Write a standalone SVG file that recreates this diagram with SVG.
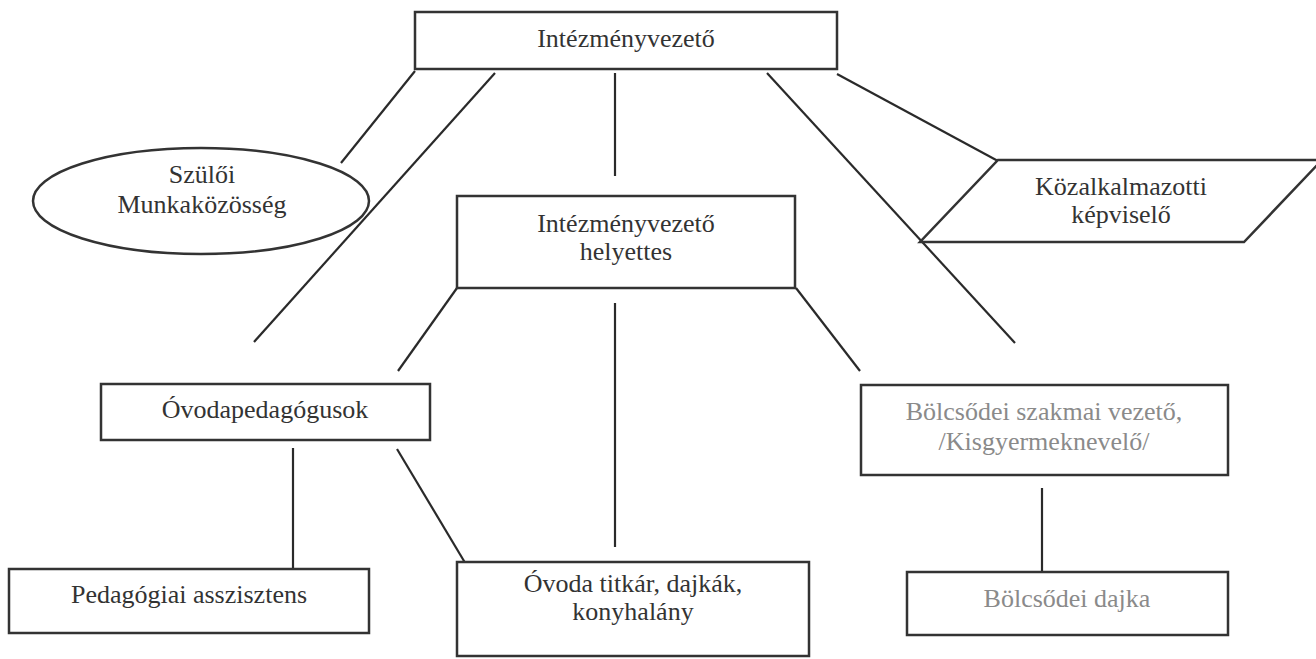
<svg xmlns="http://www.w3.org/2000/svg" width="1316" height="659" viewBox="0 0 1316 659">
<style>
.box{fill:#fff;stroke:#333;stroke-width:2.5}
.ln{stroke:#2a2a2a;stroke-width:2.2;fill:none}
.t{font-family:'Liberation Serif','DejaVu Serif',serif;font-size:26px;fill:#333;text-anchor:middle}
.g{fill:#8a8a8a}
</style>
<rect width="1316" height="659" fill="#fff"/>
<g id="connectors">
<line class="ln" x1="415" y1="71" x2="341" y2="163"/>
<line class="ln" x1="495" y1="73" x2="254" y2="342"/>
<line class="ln" x1="615" y1="73" x2="615" y2="176"/>
<line class="ln" x1="767" y1="73" x2="1015" y2="343"/>
<line class="ln" x1="837" y1="74" x2="998" y2="161"/>
<line class="ln" x1="457" y1="288" x2="398" y2="371"/>
<line class="ln" x1="615" y1="303" x2="615" y2="547"/>
<line class="ln" x1="796" y1="288" x2="860" y2="371"/>
<line class="ln" x1="293" y1="448" x2="293" y2="573"/>
<line class="ln" x1="397" y1="449" x2="467" y2="566"/>
<line class="ln" x1="1042" y1="488" x2="1042" y2="582"/>
</g>
<g id="n-intezmenyvezeto">
<rect class="box" x="415" y="12" width="422" height="57"/>
<text class="t" x="626" y="47">Intézményvezető</text>
</g>
<g id="n-szuloi">
<ellipse class="box" cx="201" cy="201" rx="168" ry="53"/>
<text class="t" x="202" y="183">Szülői</text>
<text class="t" x="202" y="213">Munkaközösség</text>
</g>
<g id="n-kozalkalmazotti">
<polygon class="box" points="998,160 1322,160 1244,242 920,242"/>
<text class="t" x="1121" y="195">Közalkalmazotti</text>
<text class="t" x="1121" y="223">képviselő</text>
</g>
<g id="n-helyettes">
<rect class="box" x="457" y="196" width="338" height="92"/>
<text class="t" x="626" y="232">Intézményvezető</text>
<text class="t" x="626" y="260">helyettes</text>
</g>
<g id="n-ovodapedagogusok">
<rect class="box" x="101" y="384" width="329" height="56"/>
<text class="t" x="265" y="418">Óvodapedagógusok</text>
</g>
<g id="n-bolcsodei-vezeto">
<rect class="box" x="861" y="385" width="367" height="90"/>
<text class="t g" x="1044" y="420">Bölcsődei szakmai vezető,</text>
<text class="t g" x="1044" y="450">/Kisgyermeknevelő/</text>
</g>
<g id="n-pedagogiai">
<rect class="box" x="9" y="569" width="360" height="64"/>
<text class="t" x="189" y="603">Pedagógiai asszisztens</text>
</g>
<g id="n-ovoda-titkar">
<rect class="box" x="457" y="562" width="352" height="94"/>
<text class="t" x="633" y="592">Óvoda titkár, dajkák,</text>
<text class="t" x="633" y="620">konyhalány</text>
</g>
<g id="n-bolcsodei-dajka">
<rect class="box" x="907" y="572" width="321" height="63"/>
<text class="t g" x="1067" y="607">Bölcsődei dajka</text>
</g>
</svg>
